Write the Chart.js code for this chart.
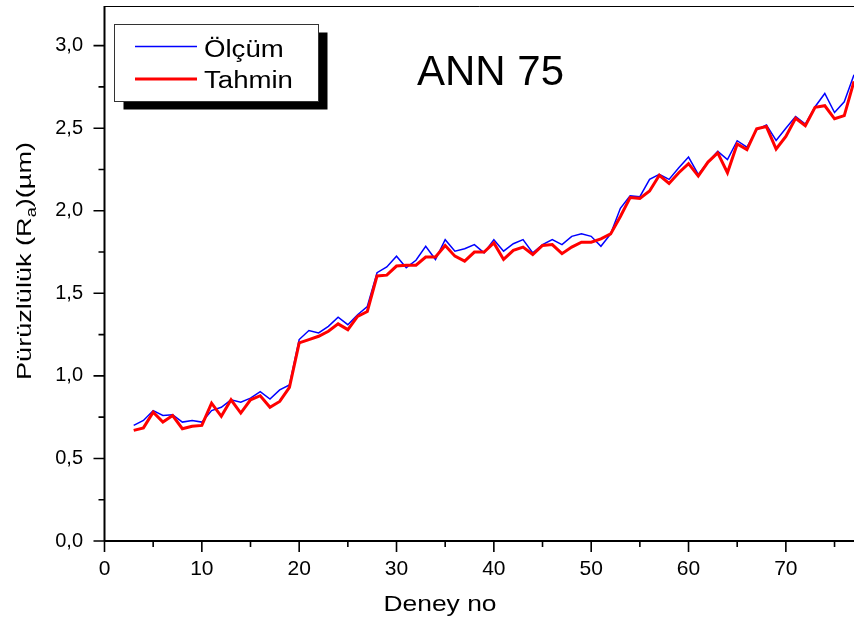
<!DOCTYPE html>
<html><head><meta charset="utf-8">
<script src="https://cdn.jsdelivr.net/npm/chart.js@4.4.1/dist/chart.umd.min.js"></script>
<style>html,body{margin:0;padding:0;background:#fff;overflow:hidden}canvas{display:block}</style>
</head><body>
<canvas id="c" width="854" height="620"></canvas>
<script>
const deneyNo = [3,4,5,6,7,8,9,10,11,12,13,14,15,16,17,18,19,20,21,22,23,24,25,26,27,28,29,30,31,32,33,34,35,36,37,38,39,40,41,42,43,44,45,46,47,48,49,50,51,52,53,54,55,56,57,58,59,60,61,62,63,64,65,66,67,68,69,70,71,72,73,74,75,76,77];
const olcum = [0.70,0.73,0.79,0.76,0.765,0.72,0.73,0.72,0.79,0.81,
  0.855,0.84,0.865,0.905,0.86,0.915,0.945,1.22,1.275,1.26,
  1.30,1.355,1.31,1.37,1.42,1.625,1.66,1.725,1.655,1.70,
  1.785,1.705,1.825,1.755,1.77,1.795,1.745,1.825,1.755,1.80,
  1.825,1.745,1.795,1.825,1.795,1.845,1.86,1.845,1.785,1.86,
  2.015,2.09,2.085,2.19,2.22,2.19,2.26,2.325,2.22,2.295,
  2.36,2.31,2.424,2.385,2.49,2.52,2.426,2.50,2.57,2.525,
  2.63,2.71,2.595,2.66,2.824];
const tahmin = [0.67,0.685,0.78,0.72,0.76,0.68,0.695,0.70,0.835,0.755,
  0.855,0.775,0.855,0.88,0.81,0.845,0.93,1.20,1.22,1.24,
  1.27,1.315,1.28,1.36,1.39,1.605,1.61,1.665,1.67,1.67,
  1.72,1.72,1.79,1.725,1.695,1.75,1.75,1.805,1.705,1.76,
  1.78,1.735,1.79,1.795,1.74,1.78,1.81,1.81,1.83,1.86,
  1.965,2.08,2.075,2.12,2.215,2.165,2.23,2.285,2.21,2.295,
  2.35,2.23,2.404,2.37,2.497,2.51,2.374,2.45,2.56,2.515,
  2.626,2.636,2.557,2.576,2.784];
const seriesNames = ['Ölçüm', 'Tahmin'];
const xTickValues = [0,10,20,30,40,50,60,70];
const xMinorTickValues = [5,15,25,35,45,55,65,75];
const yTickValues = [0,0.5,1,1.5,2,2.5,3];
const yTickLabels = ['0,0','0,5','1,0','1,5','2,0','2,5','3,0'];
const yMinorTickValues = [0.25,0.75,1.25,1.75,2.25,2.75];
const chartLabel = 'ANN 75';
const xTitle = 'Deney no';
const yTitleParts = ['Pürüzlülük (R', 'a', ')(µm)'];

const FONT = "'Liberation Sans', Arial, Helvetica, sans-serif";

function toPoints(xs, ys) { return xs.map((x, i) => ({x: x, y: ys[i]})); }

function sText(ctx, text, x, y, size, sx, align) {
  ctx.save();
  ctx.font = size + 'px ' + FONT;
  ctx.translate(x, y);
  ctx.scale(sx, 1);
  ctx.textAlign = align || 'left';
  ctx.textBaseline = 'alphabetic';
  ctx.fillText(text, 0, 0);
  ctx.restore();
}

const decor = {
  id: 'decor',
  afterDraw(chart) {
    const ctx = chart.ctx, a = chart.chartArea, xs = chart.scales.x, ys = chart.scales.y;
    ctx.save();
    ctx.strokeStyle = '#000';
    ctx.fillStyle = '#000';
    // top frame line
    ctx.lineWidth = 1;
    ctx.beginPath(); ctx.moveTo(a.left, a.top + 0.5); ctx.lineTo(a.right, a.top + 0.5); ctx.stroke();
    // axes
    ctx.lineWidth = 2;
    ctx.beginPath();
    ctx.moveTo(a.left, a.top); ctx.lineTo(a.left, a.bottom);
    ctx.moveTo(a.left, a.bottom); ctx.lineTo(a.right, a.bottom);
    ctx.stroke();
    // tick marks
    ctx.lineWidth = 1.6;
    ctx.beginPath();
    xTickValues.forEach(v => { const p = xs.getPixelForValue(v); ctx.moveTo(p, a.bottom); ctx.lineTo(p, a.bottom + 11); });
    xMinorTickValues.forEach(v => { const p = xs.getPixelForValue(v); ctx.moveTo(p, a.bottom); ctx.lineTo(p, a.bottom + 6); });
    yTickValues.forEach(v => { const p = ys.getPixelForValue(v); ctx.moveTo(a.left, p); ctx.lineTo(a.left - 11, p); });
    yMinorTickValues.forEach(v => { const p = ys.getPixelForValue(v); ctx.moveTo(a.left, p); ctx.lineTo(a.left - 6, p); });
    ctx.stroke();

    // x title
    sText(ctx, xTitle, 440, 611, 22, 1.2, 'center');

    // y title (rotated, with subscript)
    ctx.save();
    ctx.translate(31, 261);
    ctx.rotate(-Math.PI / 2);
    const fMain = '21px ' + FONT, fSub = '14px ' + FONT;
    ctx.font = fMain; const w0 = ctx.measureText(yTitleParts[0]).width;
    ctx.font = fSub; const w1 = ctx.measureText(yTitleParts[1]).width;
    ctx.font = fMain; const w2 = ctx.measureText(yTitleParts[2]).width;
    const total = w0 + w1 + w2;
    const sLen = 238 / total;
    ctx.scale(sLen, 1);
    let cx = -total / 2;
    ctx.textAlign = 'left'; ctx.textBaseline = 'alphabetic';
    ctx.font = fMain; ctx.fillText(yTitleParts[0], cx, 0); cx += w0;
    ctx.font = fSub; ctx.fillText(yTitleParts[1], cx, 5); cx += w1;
    ctx.font = fMain; ctx.fillText(yTitleParts[2], cx, 0);
    ctx.restore();

    // legend box with shadow
    const L = {x: 114.5, y: 24.5, w: 204, h: 77};
    ctx.fillStyle = '#000';
    ctx.fillRect(L.x + 9, L.y + 8, L.w, L.h);
    ctx.fillStyle = '#fff';
    ctx.fillRect(L.x, L.y, L.w, L.h);
    ctx.strokeStyle = '#333'; ctx.lineWidth = 1;
    ctx.strokeRect(L.x, L.y, L.w, L.h);
    const rowsY = [46.5, 79];
    const baseY = [57, 88];
    chart.data.datasets.forEach((ds, i) => {
      ctx.strokeStyle = ds.borderColor; ctx.lineWidth = ds.borderWidth;
      ctx.beginPath(); ctx.moveTo(135, rowsY[i]); ctx.lineTo(197, rowsY[i]); ctx.stroke();
      ctx.fillStyle = '#000';
      sText(ctx, ds.label, 204, baseY[i], 23, 1.2, 'left');
    });

    // annotation
    ctx.fillStyle = '#000';
    sText(ctx, chartLabel, 417, 85, 42, 1.0, 'left');
    ctx.restore();
  }
};

Chart.defaults.font.family = FONT;
Chart.defaults.color = '#000';

new Chart(document.getElementById('c'), {
  type: 'line',
  data: {
    datasets: [
      {label: seriesNames[0], data: toPoints(deneyNo, olcum), borderColor: '#0000ff', borderWidth: 1.5, pointRadius: 0, tension: 0, fill: false, order: 1},
      {label: seriesNames[1], data: toPoints(deneyNo, tahmin), borderColor: '#ff0000', borderWidth: 3, pointRadius: 0, tension: 0, fill: false, order: 0}
    ]
  },
  options: {
    responsive: false,
    animation: false,
    devicePixelRatio: 1,
    events: [],
    layout: {padding: {top: 6, left: 0, right: 0, bottom: 0}},
    plugins: {legend: {display: false}, tooltip: {enabled: false}},
    scales: {
      x: {
        type: 'linear', min: 0, max: 77,
        grid: {display: false, drawTicks: false},
        border: {display: false},
        afterBuildTicks: s => { s.ticks = xTickValues.map(v => ({value: v})); },
        ticks: {font: {size: 21, family: FONT}, color: '#000', padding: 16, maxRotation: 0, autoSkip: false},
        afterFit: s => { s.height = 79; s.paddingLeft = 0; s.paddingRight = 0; }
      },
      y: {
        type: 'linear', min: 0, max: 3.24,
        grid: {display: false, drawTicks: false},
        border: {display: false},
        afterBuildTicks: s => { s.ticks = yTickValues.map(v => ({value: v})); },
        ticks: {callback: (v, i) => yTickLabels[i], font: {size: 20, family: FONT}, color: '#000', padding: 21.5, autoSkip: false},
        afterFit: s => { s.width = 104.5; s.paddingTop = 0; s.paddingBottom = 0; }
      }
    }
  },
  plugins: [decor]
});
</script>
</body></html>
